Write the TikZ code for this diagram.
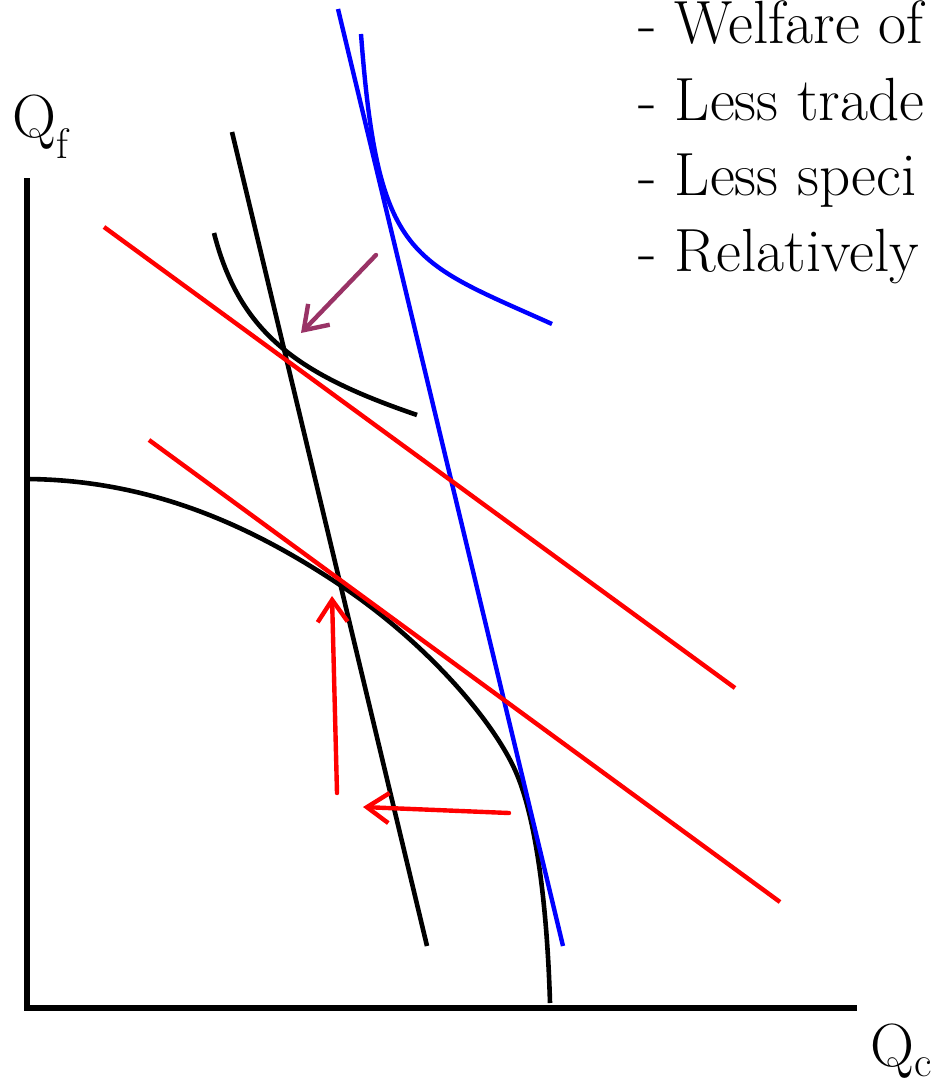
\documentclass[tikz,border=0pt]{standalone}
\usepackage{xcolor}
\usetikzlibrary{positioning,arrows.meta}
\definecolor{shiftpurple}{RGB}{153,51,102}

\begin{document}
\begin{tikzpicture} [
    x=1pt, y=-1pt,
    >={Straight Barb[length=22pt,width=30pt]},
    axis/.style={draw, line width=5.5pt},
    curve/.style={draw, line width=4.6pt},
    budget/.style={draw=red, line width=4.4pt},
    world/.style={draw=blue, line width=4.4pt},
    shiftarrow/.style={->, line width=4.4pt, line cap=round},
    bigtext/.style={inner sep=0pt, font=\fontsize{61}{73}\selectfont}
]
\clip (0,0) rectangle (932,1081);

% Axes
\coordinate (origin) at (27,1008);
\coordinate (ytop) at (27,178);
\coordinate (xend) at (857,1008);
\draw[axis] (ytop) -- (origin) -- (xend);

% Production possibility frontier
\draw[curve] (27,479) .. controls (150,480) and (250,525) .. (340,585)
    .. controls (420,638) and (490,715) .. (515,770)
    .. controls (535,814) and (547,900) .. (550,1003);

% Home price line and indifference curve
\draw[curve] (232,132) -- (427,946);
\draw[curve] (214,233) .. controls (240,335) and (300,375) .. (417,415);

% World price line and indifference curve
\draw[world] (338,9) -- (563,946);
\draw[world] (361,34) .. controls (378,260) and (410,260) .. (552,324);

% Red lines
\draw[budget] (104,227) -- (735,688);
\draw[budget] (149,440) -- (780,902);

% Arrows
\coordinate (purplestart) at (376,255);
\coordinate (purpleend) at (301,333);
\coordinate (upstart) at (337,793);
\coordinate (upend) at (332,596);
\coordinate (leftstart) at (509,813);
\coordinate (leftend) at (363,807);
\draw[shiftarrow, shiftpurple] (purplestart) -- (purpleend);
\draw[shiftarrow, red] (upstart) -- (upend);
\draw[shiftarrow, red] (leftstart) -- (leftend);

% Labels
\node[bigtext, anchor=base west] (qf) at (12,137) {Q\textsubscript{f}};
\node[bigtext, anchor=base west] (qc) at (870,1066) {Q\textsubscript{c}};
\node[bigtext, anchor=base west] (welfare) at (638,44) {- Welfare of};
\node[bigtext, anchor=base west] (trade) at (638,120) {- Less trade};
\node[bigtext, anchor=base west] (special) at (638,195.5) {- Less speci};
\node[bigtext, anchor=base west] (relative) at (638,271) {- Relatively};

\end{tikzpicture}
\end{document}
